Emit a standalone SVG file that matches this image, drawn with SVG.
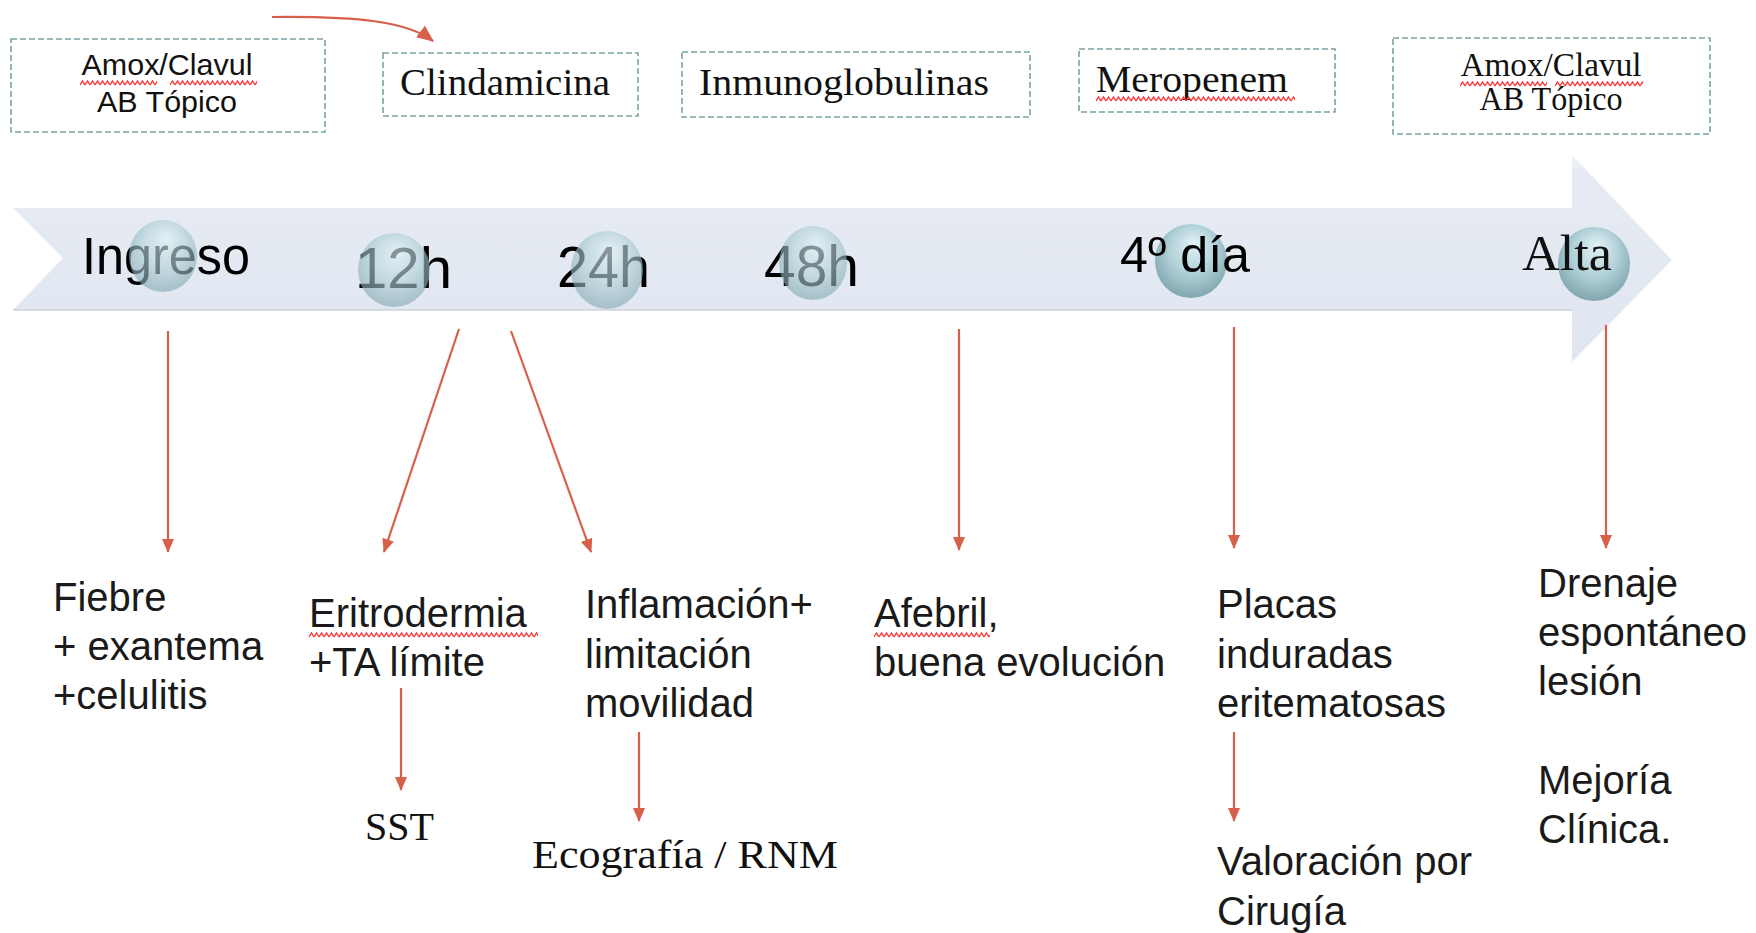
<svg xmlns="http://www.w3.org/2000/svg" width="1756" height="933" viewBox="0 0 1756 933">
<style>
.box{fill:#ffffff;stroke:#7aa3a3;stroke-width:1.6;stroke-dasharray:6 3}
.sans{font-family:"Liberation Sans",Arial,sans-serif;fill:#111}
.serif{font-family:"Liberation Serif","Times New Roman",serif;fill:#111}
.ev{font-family:"Liberation Sans",Arial,sans-serif;font-size:40px;fill:#1a1a1a}
.tl{font-family:"Liberation Sans",Arial,sans-serif;fill:#000}
.con{stroke:#d6604a;stroke-width:2.2;fill:none;marker-end:url(#ah)}
.wave{fill:url(#wv)}
</style>
<defs>
<marker id="ah" viewBox="0 0 14 12" refX="13" refY="6" markerWidth="14" markerHeight="13" markerUnits="userSpaceOnUse" orient="auto">
<path d="M0,0 L14,6 L0,12 Z" fill="#d6604a"/>
</marker>
<marker id="ah2" viewBox="0 0 14 12" refX="13" refY="6" markerWidth="17" markerHeight="15" markerUnits="userSpaceOnUse" orient="auto">
<path d="M0,0 L14,6 L0,12 Z" fill="#d6604a"/>
</marker>
<pattern id="wv" width="5" height="6" patternUnits="userSpaceOnUse">
<path d="M0,5 L2.5,1 L5,5" stroke="#ff3535" stroke-width="1.4" fill="none"/>
</pattern>
<linearGradient id="body" x1="0" y1="0" x2="0" y2="1">
<stop offset="0" stop-color="#f1f4f9"/>
<stop offset="0.08" stop-color="#e6ebf3"/>
<stop offset="1" stop-color="#e0e6f0"/>
</linearGradient>
<radialGradient id="ball" cx="0.5" cy="0.42" r="0.6" fx="0.55" fy="0.25">
<stop offset="0" stop-color="#e2f3f7"/>
<stop offset="0.55" stop-color="#b0d0d7"/>
<stop offset="1" stop-color="#7fa4ad"/>
</radialGradient>
</defs>
<rect width="1756" height="933" fill="#ffffff"/>

<g id="timeline">
<path d="M13,208 L1572,208 L1572,155 L1672,260 L1572,362 L1572,310 L13,310 L63,258 Z" fill="url(#body)"/>
<path d="M13,310 L1572,310" stroke="#cdd3dc" stroke-width="1.5"/>
</g>

<g id="box-amox1">
<rect class="box" x="11" y="39" width="314" height="93"/>
<text class="sans" x="167" y="75" font-size="29" text-anchor="middle" textLength="171" lengthAdjust="spacingAndGlyphs">Amox/Clavul</text>
<text class="sans" x="167" y="112" font-size="29" text-anchor="middle" textLength="140" lengthAdjust="spacingAndGlyphs">AB Tópico</text>
<rect class="wave" x="0" y="0" width="77" height="6" transform="translate(80,80)"/>
<rect class="wave" x="0" y="0" width="87" height="6" transform="translate(170,80)"/>
</g>
<g id="box-clinda">
<rect class="box" x="383" y="53" width="255" height="63"/>
<text class="serif" x="400" y="95" font-size="38" textLength="210" lengthAdjust="spacingAndGlyphs">Clindamicina</text>
</g>
<g id="box-inmuno">
<rect class="box" x="682" y="52" width="348" height="65"/>
<text class="serif" x="699" y="95" font-size="38" textLength="290" lengthAdjust="spacingAndGlyphs">Inmunoglobulinas</text>
</g>
<g id="box-mero">
<rect class="box" x="1079" y="49" width="256" height="63"/>
<text class="serif" x="1096" y="92" font-size="38" textLength="192" lengthAdjust="spacingAndGlyphs">Meropenem</text>
<rect class="wave" x="0" y="0" width="199" height="6" transform="translate(1096,96)"/>
</g>
<g id="box-amox2">
<rect class="box" x="1393" y="38" width="317" height="96"/>
<text class="serif" x="1551" y="76" font-size="34" text-anchor="middle" textLength="181" lengthAdjust="spacingAndGlyphs">Amox/Clavul</text>
<text class="serif" x="1551" y="110" font-size="34" text-anchor="middle" textLength="143" lengthAdjust="spacingAndGlyphs">AB Tópico</text>
<rect class="wave" x="0" y="0" width="87" height="6" transform="translate(1460,81)"/>
<rect class="wave" x="0" y="0" width="88" height="6" transform="translate(1555,81)"/>
</g>

<g id="node-ingreso">
<text class="tl" x="82" y="274" font-size="51" textLength="168" lengthAdjust="spacingAndGlyphs">Ingreso</text>
<ellipse cx="163" cy="256" rx="34" ry="36" fill="url(#ball)" opacity="0.62"/>
</g>
<g id="node-12h">
<text class="tl" x="355" y="288" font-size="57" textLength="97" lengthAdjust="spacingAndGlyphs">12h</text>
<ellipse cx="394" cy="270" rx="36" ry="37" fill="url(#ball)" opacity="0.62"/>
</g>
<g id="node-24h">
<text class="tl" x="557" y="287" font-size="57" textLength="93" lengthAdjust="spacingAndGlyphs">24h</text>
<ellipse cx="607" cy="270" rx="36" ry="39" fill="url(#ball)" opacity="0.62"/>
</g>
<g id="node-48h">
<text class="tl" x="764" y="286" font-size="57" textLength="95" lengthAdjust="spacingAndGlyphs">48h</text>
<ellipse cx="813" cy="263" rx="34" ry="37" fill="url(#ball)" opacity="0.62"/>
</g>
<g id="node-4dia">
<ellipse cx="1191" cy="261" rx="36" ry="37" fill="url(#ball)"/>
<text class="tl" x="1120" y="272" font-size="50" textLength="130" lengthAdjust="spacingAndGlyphs">4º día</text>
</g>
<g id="node-alta">
<ellipse cx="1594" cy="264" rx="36" ry="37" fill="url(#ball)"/>
<text class="serif" x="1522" y="270" font-size="51" fill="#000" textLength="90" lengthAdjust="spacingAndGlyphs">Alta</text>
</g>

<g id="ev-fiebre">
<text class="ev" x="53" y="611">Fiebre</text>
<text class="ev" x="53" y="660">+ exantema</text>
<text class="ev" x="53" y="709">+celulitis</text>
</g>
<g id="ev-eritro">
<text class="ev" x="309" y="627">Eritrodermia</text>
<text class="ev" x="309" y="676">+TA límite</text>
<rect class="wave" x="0" y="0" width="229" height="6" transform="translate(309,632)"/>
</g>
<g id="ev-sst">
<text class="serif" x="365" y="840" font-size="40">SST</text>
</g>
<g id="ev-inflam">
<text class="ev" x="585" y="618">Inflamación+</text>
<text class="ev" x="585" y="668">limitación</text>
<text class="ev" x="585" y="717">movilidad</text>
</g>
<g id="ev-eco">
<text class="serif" x="532" y="868" font-size="41" textLength="306" lengthAdjust="spacingAndGlyphs">Ecografía / RNM</text>
</g>
<g id="ev-afebril">
<text class="ev" x="874" y="627">Afebril,</text>
<text class="ev" x="874" y="676">buena evolución</text>
<rect class="wave" x="0" y="0" width="116" height="6" transform="translate(874,632)"/>
</g>
<g id="ev-placas">
<text class="ev" x="1217" y="618">Placas</text>
<text class="ev" x="1217" y="668">induradas</text>
<text class="ev" x="1217" y="717">eritematosas</text>
</g>
<g id="ev-valoracion">
<text class="ev" x="1217" y="875">Valoración por</text>
<text class="ev" x="1217" y="925">Cirugía</text>
</g>
<g id="ev-drenaje">
<text class="ev" x="1538" y="597">Drenaje</text>
<text class="ev" x="1538" y="646">espontáneo</text>
<text class="ev" x="1538" y="695">lesión</text>
<text class="ev" x="1538" y="794">Mejoría</text>
<text class="ev" x="1538" y="843">Clínica.</text>
</g>

<g id="connectors">
<path class="con" d="M272,17 C360,16 408,22 433,41" marker-end="url(#ah2)" style="marker-end:url(#ah2)"/>
<path class="con" d="M168,331 L168,552"/>
<path class="con" d="M459,329 L384,552"/>
<path class="con" d="M511,331 L591,552"/>
<path class="con" d="M959,329 L959,550"/>
<path class="con" d="M1234,327 L1234,548"/>
<path class="con" d="M1606,325 L1606,548"/>
<path class="con" d="M401,688 L401,790"/>
<path class="con" d="M639,732 L639,821"/>
<path class="con" d="M1234,732 L1234,821"/>
</g>
</svg>
